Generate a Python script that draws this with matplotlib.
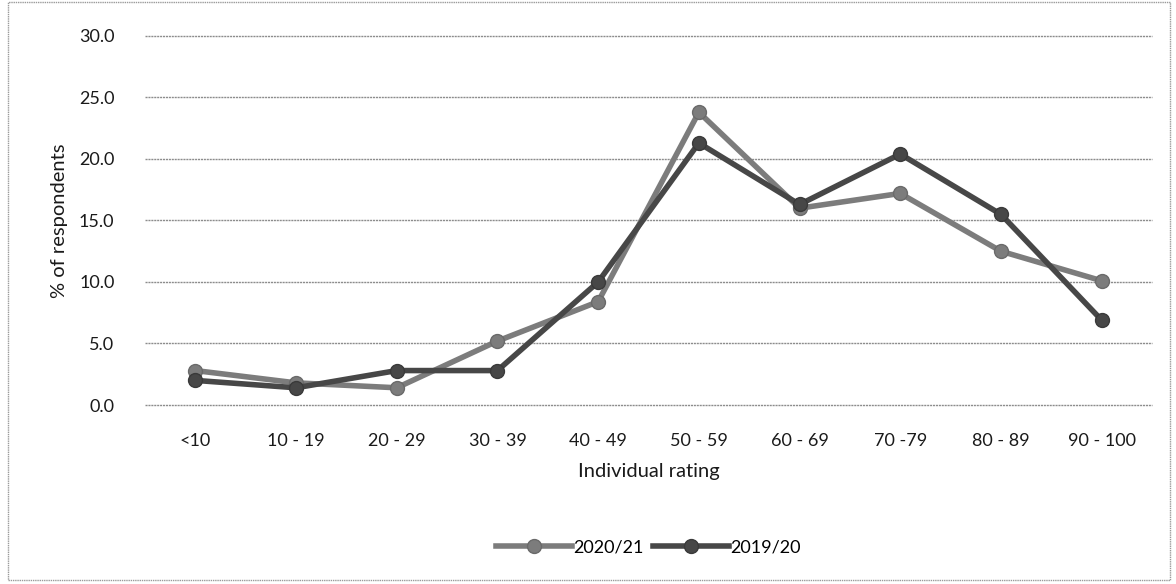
import matplotlib
matplotlib.use("Agg")
import matplotlib.pyplot as plt
from matplotlib.patches import Rectangle

# Share of respondents by individual rating band
categories = ["<10", "10 - 19", "20 - 29", "30 - 39", "40 - 49",
              "50 - 59", "60 - 69", "70 -79", "80 - 89", "90 - 100"]
series_2020_21 = [2.8, 1.8, 1.4, 5.2, 8.4, 23.8, 16.0, 17.2, 12.5, 10.1]
series_2019_20 = [2.0, 1.4, 2.8, 2.8, 10.0, 21.3, 16.3, 20.4, 15.5, 6.9]
y_ticks = [0.0, 5.0, 10.0, 15.0, 20.0, 25.0, 30.0]

plt.rcParams["font.family"] = ["Lato", "DejaVu Sans"]

fig = plt.figure(figsize=(11.76, 5.84), dpi=100)
ax = fig.add_axes([0.1233, 0.3065, 0.8563, 0.6319])

x = list(range(len(categories)))
ax.plot(x, series_2020_21, color="#7c7c7c", lw=4.0, marker="o", ms=10,
        markeredgecolor="#6a6a6a", label="2020/21", zorder=3, clip_on=False)
ax.plot(x, series_2019_20, color="#474747", lw=4.0, marker="o", ms=10,
        markeredgecolor="#3a3a3a", label="2019/20", zorder=4, clip_on=False)

ax.set_xlim(-0.5, len(categories) - 0.5)
ax.set_ylim(0, 30)
ax.set_yticks(y_ticks)
ax.set_yticklabels([f"{v:.1f}" for v in y_ticks], fontsize=13, color="#1a1a1a")
ax.set_xticks(x)
ax.set_xticklabels(categories, fontsize=13, color="#1a1a1a")
ax.tick_params(axis="both", length=0)
ax.tick_params(axis="y", pad=22)
ax.tick_params(axis="x", pad=20)
ax.grid(axis="y", color="#8c8c8c", lw=1.0, ls=(0, (1.5, 0.6)), clip_on=False)
ax.set_axisbelow(True)
for s in ax.spines.values():
    s.set_visible(False)

ax.set_xlabel("Individual rating", fontsize=14.5, color="#1a1a1a", labelpad=10)
ax.set_ylabel("% of respondents", fontsize=14.5, color="#1a1a1a", labelpad=8)

ax.legend(loc="upper center", bbox_to_anchor=(0.5, -0.32), ncol=2,
          frameon=False, fontsize=13, handlelength=4.2, handletextpad=0.1,
          columnspacing=0.5)

# Chart-area border
fig.patches.append(Rectangle((0.007, 0.006), 0.988, 0.99, transform=fig.transFigure,
                             fill=False, edgecolor="#9a9a9a", lw=1.0,
                             ls=(0, (1, 0.6))))

fig.savefig("out.png", dpi=100)
